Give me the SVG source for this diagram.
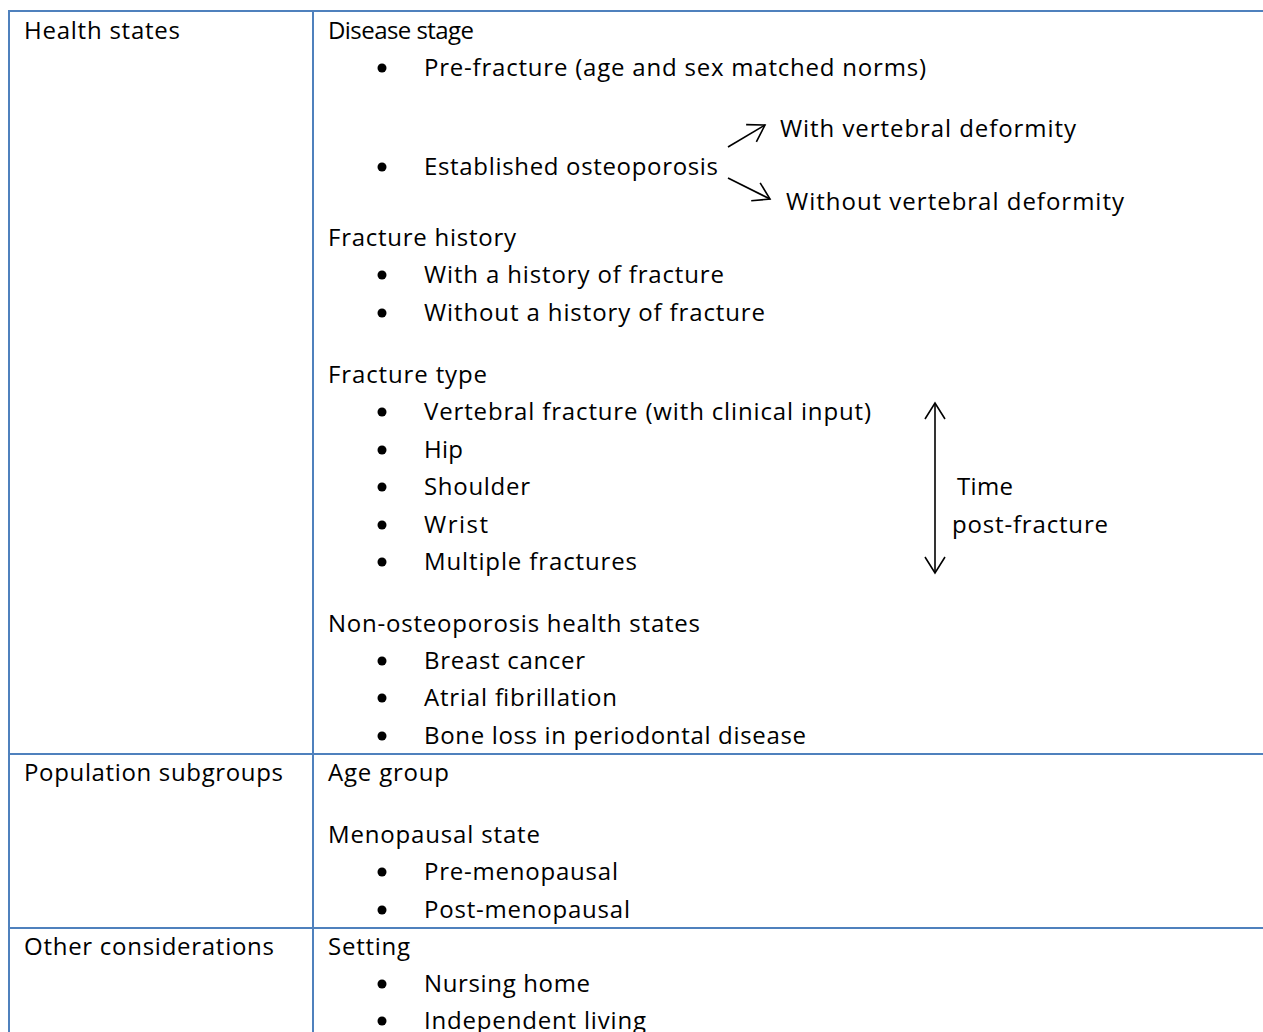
<svg xmlns="http://www.w3.org/2000/svg" width="1263" height="1032" viewBox="0 0 1263 1032">
<style>
text{font-family:"Open Sans","Liberation Sans",sans-serif;font-size:24px;fill:#000}
.grid{stroke:#4F81BD;stroke-width:2;fill:none}
.bul{fill:#000}
.arr{stroke:#000;stroke-width:1.6;fill:none}
</style>
<defs>
<marker id="ah" markerUnits="userSpaceOnUse" markerWidth="34" markerHeight="34" viewBox="-22 -17 34 34" refX="0" refY="0" orient="auto-start-reverse">
<path d="M-16,-10 L0,0 L-16,10" stroke="#000" stroke-width="1.6" fill="none"/>
</marker>
</defs>
<rect width="1263" height="1032" fill="#fff"/>
<g id="table-grid">
<line class="grid" x1="8" y1="11" x2="1263" y2="11"/>
<line class="grid" x1="8" y1="754" x2="1263" y2="754"/>
<line class="grid" x1="8" y1="928" x2="1263" y2="928"/>
<line class="grid" x1="9" y1="10" x2="9" y2="1032"/>
<line class="grid" x1="313" y1="10" x2="313" y2="1032"/>
</g>
<g id="row-health-states">
<text x="24" y="39" textLength="156">Health states</text>
<text x="328" y="39" textLength="146">Disease stage</text>
<circle class="bul" cx="382" cy="68" r="4.5"/><text x="424" y="76" textLength="502">Pre-fracture (age and sex matched norms)</text>
<text x="780" y="137" textLength="296">With vertebral deformity</text>
<circle class="bul" cx="382" cy="167" r="4.5"/><text x="424" y="175" textLength="294">Established osteoporosis</text>
<text x="786" y="210" textLength="338">Without vertebral deformity</text>
<text x="328" y="246" textLength="188">Fracture history</text>
<circle class="bul" cx="382" cy="275" r="4.5"/><text x="424" y="283" textLength="300">With a history of fracture</text>
<circle class="bul" cx="382" cy="313" r="4.5"/><text x="424" y="321" textLength="341">Without a history of fracture</text>
<text x="328" y="383" textLength="159">Fracture type</text>
<circle class="bul" cx="382" cy="412" r="4.5"/><text x="424" y="420" textLength="447">Vertebral fracture (with clinical input)</text>
<circle class="bul" cx="382" cy="450" r="4.5"/><text x="424" y="458" textLength="39">Hip</text>
<circle class="bul" cx="382" cy="487" r="4.5"/><text x="424" y="495" textLength="106">Shoulder</text>
<circle class="bul" cx="382" cy="525" r="4.5"/><text x="424" y="533" textLength="64">Wrist</text>
<circle class="bul" cx="382" cy="562" r="4.5"/><text x="424" y="570" textLength="213">Multiple fractures</text>
<text x="957" y="495" textLength="56">Time</text>
<text x="952" y="533" textLength="156">post-fracture</text>
<text x="328" y="632" textLength="372">Non-osteoporosis health states</text>
<circle class="bul" cx="382" cy="661" r="4.5"/><text x="424" y="669" textLength="161">Breast cancer</text>
<circle class="bul" cx="382" cy="698" r="4.5"/><text x="424" y="706" textLength="193">Atrial fibrillation</text>
<circle class="bul" cx="382" cy="736" r="4.5"/><text x="424" y="744" textLength="382">Bone loss in periodontal disease</text>
</g>
<g id="row-population-subgroups">
<text x="24" y="781" textLength="259">Population subgroups</text>
<text x="328" y="781" textLength="121">Age group</text>
<text x="328" y="843" textLength="212">Menopausal state</text>
<circle class="bul" cx="382" cy="872" r="4.5"/><text x="424" y="880" textLength="194">Pre-menopausal</text>
<circle class="bul" cx="382" cy="910" r="4.5"/><text x="424" y="918" textLength="206">Post-menopausal</text>
</g>
<g id="row-other-considerations">
<text x="24" y="955" textLength="250">Other considerations</text>
<text x="328" y="955" textLength="82">Setting</text>
<circle class="bul" cx="382" cy="984" r="4.5"/><text x="424" y="992" textLength="166">Nursing home</text>
<circle class="bul" cx="382" cy="1021" r="4.5"/><text x="424" y="1029" textLength="222">Independent living</text>
</g>
<g id="connectors">
<line class="arr" x1="728" y1="147" x2="765" y2="125" marker-end="url(#ah)"/>
<line class="arr" x1="728" y1="178" x2="770" y2="199" marker-end="url(#ah)"/>
<line class="arr" x1="935" y1="403" x2="935" y2="573" marker-start="url(#ah)" marker-end="url(#ah)"/>
</g>
</svg>
